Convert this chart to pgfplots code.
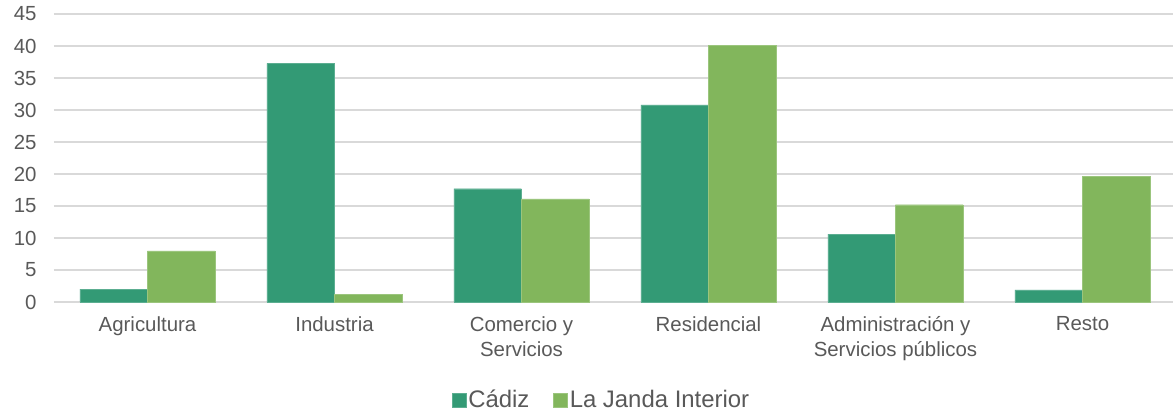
\documentclass[border=0pt]{standalone}
\usepackage{fontspec}
\setmainfont{Liberation Sans}
\usepackage{pgfplots}
\pgfplotsset{compat=1.18}
\definecolor{cadiz}{RGB}{51,154,117}
\definecolor{janda}{RGB}{130,182,92}
\definecolor{gridc}{RGB}{217,217,217}
\definecolor{txt}{RGB}{89,89,89}
\begin{document}
\begin{tikzpicture}
\begin{axis}[
  name=ax,
  scale only axis,
  width=1122bp, height=288bp,
  xmin=-0.5, xmax=5.5, ymin=0, ymax=45,
  ytick={0,5,...,45},
  xtick={0,...,5},
  xticklabels={Agricultura,Industria,{Comercio y\\Servicios},Residencial,{Administración y\\Servicios públicos},Resto},
  xticklabel style={align=center, font=\fontsize{20.5}{25}\selectfont, text=txt, yshift=-11bp},
  yticklabel style={font=\fontsize{20.5}{22}\selectfont, text=txt, xshift=-14bp},
  /pgf/number format/assume math mode=true,
  axis line style={draw=none},
  major tick length=0pt,
  ymajorgrids,
  grid style={gridc, line width=1.2bp},
  ybar=0pt,
  bar width=67.7bp,
  legend style={at={(0.488,-0.34)}, anchor=center, draw=none, legend columns=-1,
    font=\fontsize{24}{26}\selectfont, text=txt, inner sep=0pt,
    /tikz/every even column/.append style={column sep=22bp}},
  legend image code/.code={\fill[#1] (0bp,-7bp) rectangle (14bp,7bp);},
]
\addplot[fill=cadiz, draw=cadiz!80!white] coordinates {(0,2.0) (1,37.3) (2,17.7) (3,30.8) (4,10.6) (5,1.9)};
\addplot[fill=janda, draw=janda!80!white] coordinates {(0,8.0) (1,1.25) (2,16.1) (3,40.1) (4,15.2) (5,19.6)};
\legend{Cádiz,La Janda Interior}
\end{axis}
\pgfresetboundingbox
\path (ax.south west) ++(-54bp,-112bp) rectangle ++(1173bp,414bp);
\end{tikzpicture}
\end{document}
